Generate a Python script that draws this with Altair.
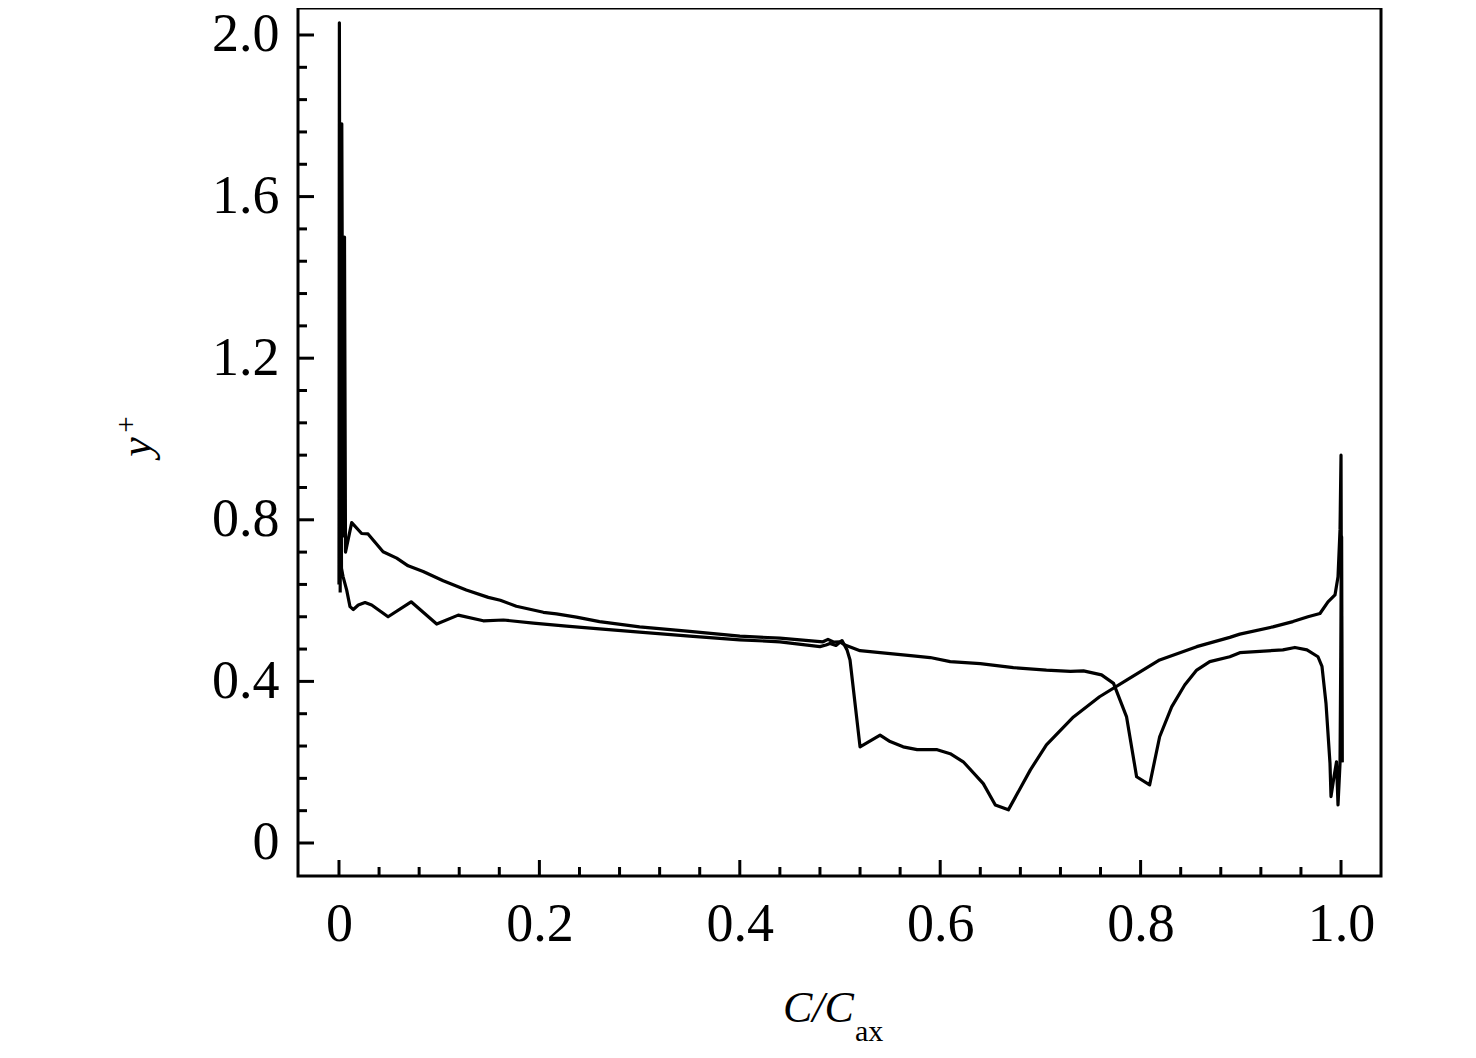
import altair as alt
import pandas as pd

# ---- data ----
A_x = [0.0, 0.0004, 0.0012, 0.0028, 0.0042, 0.0055, 0.0065, 0.0127, 0.0226, 0.029, 0.044, 0.0576,
       0.069, 0.084, 0.104, 0.127, 0.149, 0.161, 0.177, 0.204, 0.217, 0.237, 0.26, 0.30, 0.35, 0.40,
       0.44, 0.483, 0.488, 0.494, 0.50, 0.505, 0.52, 0.54, 0.573, 0.59, 0.61, 0.64, 0.673, 0.706,
       0.73, 0.743, 0.761, 0.773, 0.786, 0.796, 0.809, 0.819, 0.831, 0.844, 0.856, 0.869, 0.889,
       0.899, 0.942, 0.954, 0.966, 0.977, 0.981, 0.985, 0.989, 0.990, 0.993, 0.9955, 0.997, 0.999,
       1.0006, 1.0012]
A_y = [0.64, 2.03, 0.80, 1.78, 0.76, 1.50, 0.72, 0.793, 0.766, 0.765, 0.721, 0.705,
       0.686, 0.672, 0.649, 0.626, 0.608, 0.601, 0.586, 0.571, 0.567, 0.559, 0.548, 0.535, 0.524, 0.512,
       0.507, 0.498, 0.504, 0.497, 0.498, 0.49, 0.476, 0.471, 0.463, 0.459, 0.449, 0.444, 0.434, 0.428,
       0.425, 0.426, 0.416, 0.395, 0.312, 0.164, 0.144, 0.263, 0.337, 0.391, 0.428, 0.449, 0.461,
       0.471, 0.478, 0.484, 0.478, 0.461, 0.437, 0.346, 0.197, 0.115, 0.164, 0.201, 0.094, 0.197,
       0.758, 0.20]

B_x = [0.0012, 0.0018, 0.0025, 0.004, 0.0077, 0.011, 0.0143, 0.0193, 0.026, 0.0326, 0.049, 0.072,
       0.0975, 0.119, 0.144, 0.164, 0.194, 0.227, 0.26, 0.30, 0.35, 0.40, 0.44, 0.48, 0.486, 0.49,
       0.496, 0.502, 0.507, 0.51, 0.52, 0.54, 0.55, 0.563, 0.577, 0.597, 0.61, 0.623, 0.643, 0.655,
       0.668, 0.69, 0.706, 0.733, 0.759, 0.786, 0.819, 0.856, 0.889, 0.899, 0.932, 0.952, 0.967,
       0.979, 0.987, 0.994, 0.997, 0.999, 1.0, 1.0008]
B_y = [0.62, 1.2, 0.68, 0.66, 0.626, 0.585, 0.578, 0.589, 0.595, 0.589, 0.560, 0.597,
       0.542, 0.564, 0.550, 0.552, 0.544, 0.537, 0.530, 0.522, 0.512, 0.503, 0.498, 0.486, 0.49, 0.494,
       0.489, 0.501, 0.478, 0.453, 0.238, 0.267, 0.251, 0.238, 0.231, 0.231, 0.221, 0.201, 0.147, 0.094,
       0.082, 0.181, 0.243, 0.312, 0.362, 0.403, 0.453, 0.486, 0.509, 0.517, 0.535, 0.548, 0.560,
       0.568, 0.597, 0.614, 0.659, 0.775, 0.96, 0.20]

x_major = [0.0, 0.2, 0.4, 0.6, 0.8, 1.0]
x_minor = [round(0.04 * i, 2) for i in range(26) if i % 5 != 0]
y_major = [0.0, 0.4, 0.8, 1.2, 1.6, 2.0]
y_minor = [round(0.08 * i, 2) for i in range(26) if i % 5 != 0]

x_title_main = "C/C"
x_title_sub = "ax"
y_title_main = "y"
y_title_sup = "+"

# ---- build tables ----
rows = []
for i, (xv, yv) in enumerate(zip(A_x, A_y)):
    rows.append({"x": xv, "y": yv, "series": "A", "idx": i})
for i, (xv, yv) in enumerate(zip(B_x, B_y)):
    rows.append({"x": xv, "y": yv, "series": "B", "idx": i})
df = pd.DataFrame(rows)

TOP = 0
W, H = 1083, 868
FONT = "Liberation Serif"
xscale = alt.Scale(domain=[-0.0409, 1.0399], nice=False, zero=False)
yscale = alt.Scale(domain=[-0.0817, 2.0668], nice=False, zero=False)
label_expr = "datum.value == 0 ? '0' : format(datum.value, '.1f')"

lines = alt.Chart(df).mark_line(color="black", strokeWidth=3.2, strokeJoin="round").encode(
    x=alt.X("x:Q", scale=xscale,
            axis=alt.Axis(values=x_major, labelExpr=label_expr, title=None, ticks=False, tickSize=0,
                          domain=False, grid=False, labelPadding=21, labelFlush=False,
                          labelOverlap=False, labelFont=FONT, labelFontSize=54, labelColor="black")),
    y=alt.Y("y:Q", scale=yscale,
            axis=alt.Axis(values=y_major, labelExpr=label_expr, title=None, ticks=False, tickSize=0,
                          domain=False, grid=False, labelPadding=19, labelFlush=False,
                          labelOverlap=False, labelFont=FONT, labelFontSize=54, labelColor="black")),
    detail="series:N",
    order="idx:Q",
)

def xticks(vals, length):
    return alt.Chart(pd.DataFrame({"v": vals})).mark_rule(color="black", strokeWidth=3).encode(
        x=alt.X("v:Q", scale=xscale), y=alt.value(H), y2=alt.value(H - length))

def yticks(vals, length):
    return alt.Chart(pd.DataFrame({"v": vals})).mark_rule(color="black", strokeWidth=3).encode(
        y=alt.Y("v:Q", scale=yscale), x=alt.value(0), x2=alt.value(length))

def label(text, px, py, size, style="normal", align="left", baseline="alphabetic", angle=0):
    kw = dict(font=FONT, fontSize=size, fontStyle=style, align=align, baseline=baseline, color="black")
    if angle:
        kw["angle"] = angle
    return alt.Chart(pd.DataFrame({"t": [text]})).mark_text(**kw).encode(
        text="t:N", x=alt.value(px), y=alt.value(py - TOP))

chart = alt.layer(
    lines,
    xticks(x_major, 16), xticks(x_minor, 9),
    yticks(y_major, 16), yticks(y_minor, 9),
    label(x_title_main, 485, 1014, 44, style="italic"),
    label(x_title_sub, 557, 1033, 30),
    label(y_title_main, -147, 439, 44, style="italic", align="center", angle=270),
    label(y_title_sup, -172, 417, 30, align="center", baseline="middle"),
).properties(
    width=W, height=H,
    autosize=alt.AutoSizeParams(type="none"),
    padding={"left": 290, "top": TOP, "right": 60, "bottom": 170},
).configure_view(stroke="black", strokeWidth=3)

chart.save("out.html", embed_options={"renderer": "svg", "actions": False})
